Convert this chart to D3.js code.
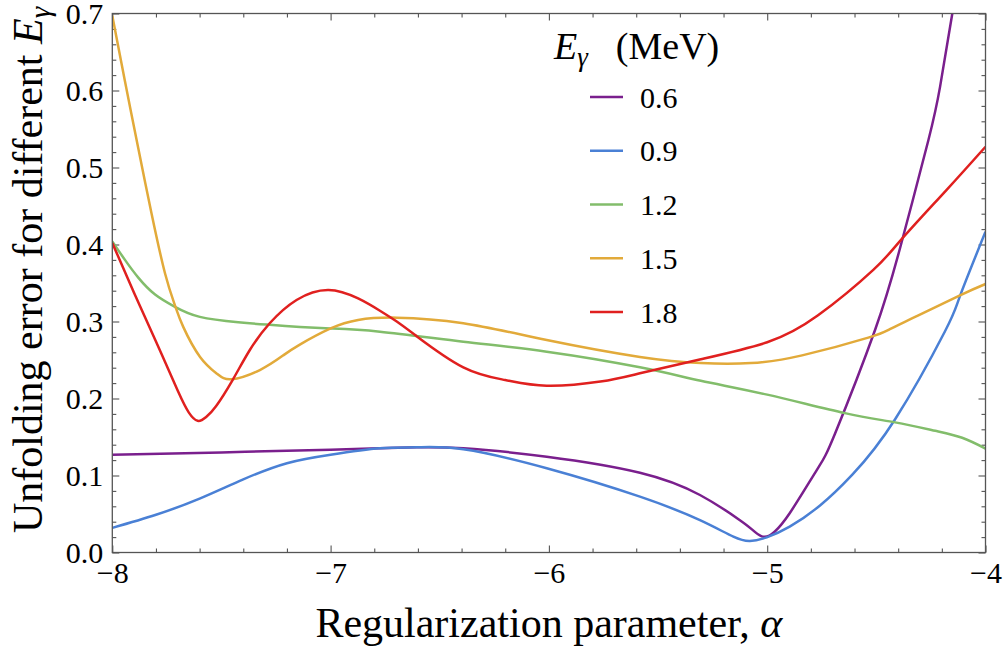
<!DOCTYPE html>
<html>
<head>
<meta charset="utf-8">
<script src="https://cdn.jsdelivr.net/npm/d3@7"></script>
<style>
  html, body { margin: 0; padding: 0; background: #fff; }
  svg { display: block; }
  text { font-family: "Liberation Serif", "Times New Roman", Tinos, "DejaVu Serif", serif; fill: #000; }
</style>
</head>
<body>
<svg id="chart" width="1005" height="646"></svg>
<script>
// Unfolding error vs. regularization parameter for several gamma energies

const energies = ["0.6", "0.9", "1.2", "1.5", "1.8"];
const colors   = ["#7a1f8d", "#4a80d5", "#82bd6b", "#e2aa3a", "#e0201f"];

const alpha06 = [-8, -7.5, -7.0, -6.774, -6.606, -6.392, -6.01, -5.583, -5.308, -5.125, -5.07, -5.025, -4.99, -4.966, -4.897, -4.773, -4.69, -4.506, -4.387, -4.262, -4.208, -4.152];
const err06   = [0.127, 0.130, 0.1335, 0.1353, 0.1366, 0.1353, 0.1244, 0.1036, 0.0747, 0.042, 0.030, 0.021, 0.022, 0.027, 0.051, 0.107, 0.154, 0.289, 0.400, 0.535, 0.605, 0.70];

const alpha09 = [-8, -7.8, -7.6, -7.4, -7.2, -7.0, -6.774, -6.606, -6.392, -6.01, -5.583, -5.308, -5.155, -5.079, -5.002, -4.897, -4.758, -4.61, -4.414, -4.186, -4.117, -4.0];
const err09   = [0.032, 0.049, 0.070, 0.095, 0.116, 0.127, 0.1353, 0.1366, 0.134, 0.1094, 0.0725, 0.042, 0.0205, 0.0149, 0.0197, 0.0335, 0.061, 0.101, 0.173, 0.287, 0.333, 0.4166];

const alpha12 = [-8, -7.942, -7.881, -7.804, -7.713, -7.599, -7.423, -7.294, -7.14, -7.0, -6.774, -6.392, -6.01, -5.583, -5.304, -5.0, -4.644, -4.414, -4.23, -4.107, -4.0];
const err12   = [0.404, 0.380, 0.357, 0.335, 0.319, 0.306, 0.299, 0.296, 0.293, 0.291, 0.2868, 0.2738, 0.2608, 0.2405, 0.223, 0.205, 0.181, 0.169, 0.158, 0.149, 0.135];

const alpha15 = [-8, -7.942, -7.881, -7.820, -7.758, -7.713, -7.675, -7.598, -7.52, -7.453, -7.324, -7.217, -7.141, -7.0, -6.874, -6.697, -6.392, -6.01, -5.583, -5.304, -5.074, -4.84, -4.537, -4.438, -4.31, -4.117, -4.0];
const err15   = [0.697, 0.612, 0.525, 0.440, 0.362, 0.321, 0.293, 0.254, 0.232, 0.225, 0.237, 0.256, 0.270, 0.291, 0.302, 0.305, 0.2977, 0.276, 0.254, 0.246, 0.246, 0.256, 0.279, 0.29, 0.3075, 0.334, 0.3487];

const alpha18 = [-8, -7.9, -7.8, -7.7, -7.65, -7.609, -7.57, -7.525, -7.449, -7.37, -7.279, -7.156, -7.01, -6.874, -6.774, -6.697, -6.606, -6.392, -6.2, -6.01, -5.764, -5.583, -5.304, -5.0, -4.767, -4.514, -4.387, -4.178, -4.0];
const err18   = [0.402, 0.337, 0.274, 0.210, 0.182, 0.171, 0.176, 0.190, 0.224, 0.263, 0.2977, 0.328, 0.341, 0.330, 0.314, 0.300, 0.281, 0.2405, 0.224, 0.2166, 0.222, 0.2327, 0.251, 0.273, 0.308, 0.367, 0.406, 0.471, 0.527];

const xMajor = [-8, -7, -6, -5, -4];
const yMajor = [0, 0.1, 0.2, 0.3, 0.4, 0.5, 0.6, 0.7];

const seriesAlpha = [alpha06, alpha09, alpha12, alpha15, alpha18];
const seriesErr   = [err06, err09, err12, err15, err18];

const svg = d3.select("#chart");
const L = 112.3, R = 985.5, T = 13.5, B = 552.5;

const x = d3.scaleLinear().domain([-8, -4]).range([L, R]);
const y = d3.scaleLinear().domain([0, 0.7]).range([B, T]);

const xMinor = d3.range(-8, -3.99, 0.2).map(v => +v.toFixed(2)).filter(v => !xMajor.includes(v));
const yMinor = d3.range(0, 0.7001, 0.02).map(v => +v.toFixed(2)).filter(v => !yMajor.some(m => Math.abs(m - v) < 1e-9));

const frameColor = "#555";
const fmtX = d3.format("d");
const fmtY = d3.format(".1f");

function styleAxis(g) {
  g.attr("font-family", null);
  g.select(".domain").remove();
  g.selectAll(".tick line").attr("stroke", frameColor).attr("stroke-width", 1.1);
}

// bottom axis with labels
svg.append("g").attr("transform", `translate(0,${B})`)
  .call(d3.axisBottom(x).tickValues(xMajor).tickSize(-7).tickPadding(9).tickFormat(fmtX))
  .call(styleAxis)
  .call(g => g.selectAll("text").attr("font-size", 30));
svg.append("g").attr("transform", `translate(0,${B})`)
  .call(d3.axisBottom(x).tickValues(xMinor).tickSize(-4).tickFormat(""))
  .call(styleAxis);
// top mirror
svg.append("g").attr("transform", `translate(0,${T})`)
  .call(d3.axisTop(x).tickValues(xMajor).tickSize(-7).tickFormat(""))
  .call(styleAxis);
svg.append("g").attr("transform", `translate(0,${T})`)
  .call(d3.axisTop(x).tickValues(xMinor).tickSize(-4).tickFormat(""))
  .call(styleAxis);

// left axis with labels
svg.append("g").attr("transform", `translate(${L},0)`)
  .call(d3.axisLeft(y).tickValues(yMajor).tickSize(-7).tickPadding(9).tickFormat(fmtY))
  .call(styleAxis)
  .call(g => g.selectAll("text").attr("font-size", 30));
svg.append("g").attr("transform", `translate(${L},0)`)
  .call(d3.axisLeft(y).tickValues(yMinor).tickSize(-4).tickFormat(""))
  .call(styleAxis);
// right mirror
svg.append("g").attr("transform", `translate(${R},0)`)
  .call(d3.axisRight(y).tickValues(yMajor).tickSize(-7).tickFormat(""))
  .call(styleAxis);
svg.append("g").attr("transform", `translate(${R},0)`)
  .call(d3.axisRight(y).tickValues(yMinor).tickSize(-4).tickFormat(""))
  .call(styleAxis);

// clip region for curves
svg.append("clipPath").attr("id", "plot-clip")
  .append("rect").attr("x", L).attr("y", T).attr("width", R - L).attr("height", B - T);

const line = d3.line()
  .x(d => x(d[0]))
  .y(d => y(d[1]))
  .curve(d3.curveNatural);

const curves = svg.append("g").attr("clip-path", "url(#plot-clip)");
energies.forEach((e, i) => {
  const pts = seriesAlpha[i].map((a, j) => [a, seriesErr[i][j]]);
  curves.append("path")
    .datum(pts)
    .attr("fill", "none")
    .attr("stroke", colors[i])
    .attr("stroke-width", 2.5)
    .attr("stroke-linejoin", "round")
    .attr("d", line);
});

// frame
svg.append("rect")
  .attr("x", L).attr("y", T).attr("width", R - L).attr("height", B - T)
  .attr("fill", "none").attr("stroke", frameColor).attr("stroke-width", 1.3);

// axis titles
svg.append("text")
  .attr("x", (L + R) / 2).attr("y", 637)
  .attr("text-anchor", "middle").attr("font-size", 42)
  .text("Regularization parameter, ")
  .append("tspan").attr("font-style", "italic").text("α");

const yTitle = svg.append("text")
  .attr("transform", "translate(42,270) rotate(-90)")
  .attr("text-anchor", "middle").attr("font-size", 42);
yTitle.append("tspan").text("Unfolding error for different ");
yTitle.append("tspan").attr("font-style", "italic").text("E");
yTitle.append("tspan").attr("font-style", "italic").attr("font-size", 29).attr("dy", 8).text("γ");

// legend
const legTitle = svg.append("text").attr("x", 554).attr("y", 59).attr("font-size", 38);
legTitle.append("tspan").attr("font-style", "italic").text("E");
legTitle.append("tspan").attr("font-style", "italic").attr("font-size", 27).attr("dy", 7).text("γ");
legTitle.append("tspan").attr("dy", -7).attr("dx", 28).text("(MeV)");

const legY = d3.scaleLinear().domain([0, 4]).range([97, 312]);
const legend = svg.append("g");
energies.forEach((e, i) => {
  legend.append("line")
    .attr("x1", 590).attr("x2", 623)
    .attr("y1", legY(i)).attr("y2", legY(i))
    .attr("stroke", colors[i]).attr("stroke-width", 2.5);
  legend.append("text")
    .attr("x", 640).attr("y", legY(i)).attr("dy", "0.35em")
    .attr("font-size", 30).text(e);
});
</script>
</body>
</html>
